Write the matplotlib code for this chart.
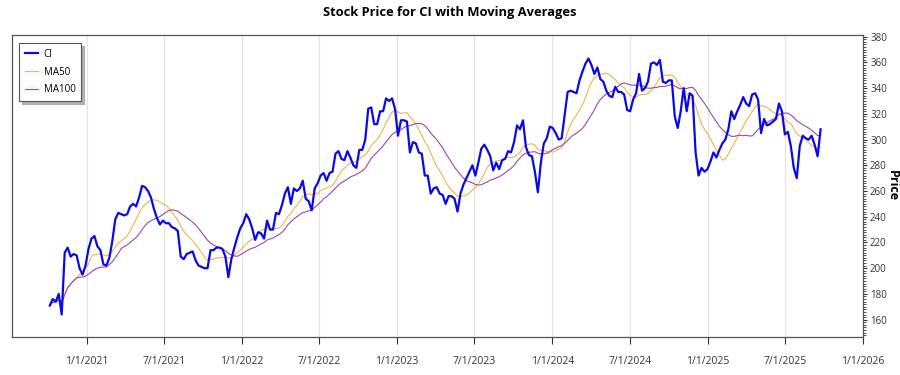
import pandas as pd
import matplotlib
matplotlib.use("Agg")
import matplotlib.pyplot as plt
import matplotlib.dates as mdates
from matplotlib.ticker import MultipleLocator, FuncFormatter

# DATA (weekly closes)
start_date = "2020-10-06"
ci = [171, 176, 174, 180, 164, 212, 216, 209, 211, 210,
      200, 195, 202, 215, 223, 225, 217, 214, 203, 202,
      208, 221, 238, 243, 242, 241, 242, 248, 250, 248,
      255, 264, 263, 260, 255, 246, 239, 234, 237, 235,
      235, 232, 231, 229, 209, 207, 211, 212, 213, 206,
      202, 201, 200, 200, 214, 214, 216, 216, 215, 209,
      193, 207, 216, 224, 231, 235, 242, 238, 231, 222,
      228, 227, 223, 237, 230, 230, 243, 242, 249, 258,
      263, 250, 262, 260, 262, 268, 254, 252, 245, 262,
      266, 272, 274, 268, 274, 275, 289, 291, 285, 284,
      291, 286, 280, 278, 292, 292, 300, 324, 325, 312,
      312, 322, 322, 332, 330, 332, 324, 303, 315, 315,
      314, 290, 298, 297, 290, 289, 272, 272, 258, 262,
      263, 258, 257, 250, 256, 256, 254, 244, 258, 265,
      270, 275, 280, 272, 282, 293, 296, 292, 287, 276,
      282, 277, 284, 285, 291, 290, 298, 311, 308, 315,
      294, 288, 287, 275, 259, 282, 297, 301, 310, 309,
      305, 300, 301, 319, 337, 338, 337, 336, 346, 353,
      359, 363, 358, 351, 356, 347, 345, 338, 334, 333,
      341, 337, 337, 335, 323, 322, 331, 336, 351, 338,
      340, 345, 359, 360, 358, 362, 345, 344, 346, 346,
      318, 309, 322, 340, 322, 336, 334, 290, 272, 278,
      275, 277, 283, 290, 286, 292, 297, 300, 308, 322,
      316, 322, 327, 333, 328, 326, 335, 336, 331, 305,
      316, 311, 312, 314, 316, 328, 322, 304, 306, 295,
      278, 270, 295, 303, 301, 300, 303, 296, 287, 308]
ma_windows = {"MA50": 10, "MA100": 20}   # 50 / 100 trading days in weeks
x_ticks_range = ("2021-01-01", "2026-01-01")

plt.rcParams["font.family"] = ["Open Sans", "DejaVu Sans"]

dates = pd.date_range(start_date, periods=len(ci), freq="7D")
price = pd.Series(ci, index=dates)
ma50 = price.rolling(ma_windows["MA50"], min_periods=1).mean()
ma100 = price.rolling(ma_windows["MA100"], min_periods=1).mean()

fig = plt.figure(figsize=(9, 3.75), dpi=100)
ax = fig.add_axes([0.0133, 0.1013, 0.9457, 0.8054])

ax.plot(price.index, price.values, color="#0a0ae6", linewidth=1.6, label="CI", zorder=3)
ax.plot(ma50.index, ma50.values, color="#f2b24a", linewidth=0.8, label="MA50", zorder=2)
ax.plot(ma100.index, ma100.values, color="#a046aa", linewidth=0.8, label="MA100", zorder=2)

ax.set_xlim(pd.Timestamp("2020-07-09"), pd.Timestamp(x_ticks_range[1]))
ax.set_ylim(146.5, 381.3)

# x axis
ax.xaxis.set_major_locator(mdates.MonthLocator(bymonth=[1, 7]))
ax.xaxis.set_major_formatter(FuncFormatter(
    lambda v, pos: "{d.month}/{d.day}/{d.year}".format(d=mdates.num2date(v))))
ax.tick_params(axis="x", direction="out", length=5, pad=9, labelsize=7.5,
               colors="#333333", width=0.8)
ax.xaxis.grid(True, color="#e3e3e3", linewidth=0.8)
ax.yaxis.grid(False)

# y axis on the right
ax.yaxis.tick_right()
ax.yaxis.set_label_position("right")
ax.yaxis.set_major_locator(MultipleLocator(20))
ax.yaxis.set_minor_locator(MultipleLocator(2))
ax.tick_params(axis="y", which="major", direction="out", length=3, pad=2,
               labelsize=7, colors="#333333", width=0.8)
ax.tick_params(axis="y", which="minor", direction="out", length=2, width=0.6,
               colors="#333333")
ax.set_ylabel("Price", rotation=270, fontsize=9, fontweight="bold",
              ha="center", va="center")
ax.yaxis.set_label_coords(1.034, 0.5)

for s in ax.spines.values():
    s.set_color("#555555")
    s.set_linewidth(0.9)

fig.suptitle("Stock Price for CI with Moving Averages", x=0.5, y=0.985,
             fontsize=9.3, fontweight="bold")

leg = ax.legend(loc="upper left", fontsize=7, frameon=True,
                shadow={"color": "#b0b0b0", "alpha": 1.0},
                fancybox=False, borderpad=0.6, labelspacing=0.7,
                handlelength=1.3, handletextpad=0.6,
                bbox_to_anchor=(0.003, 0.99))
leg.get_frame().set_edgecolor("#555555")
leg.get_frame().set_linewidth(0.8)

fig.savefig("out.png", dpi=100)
